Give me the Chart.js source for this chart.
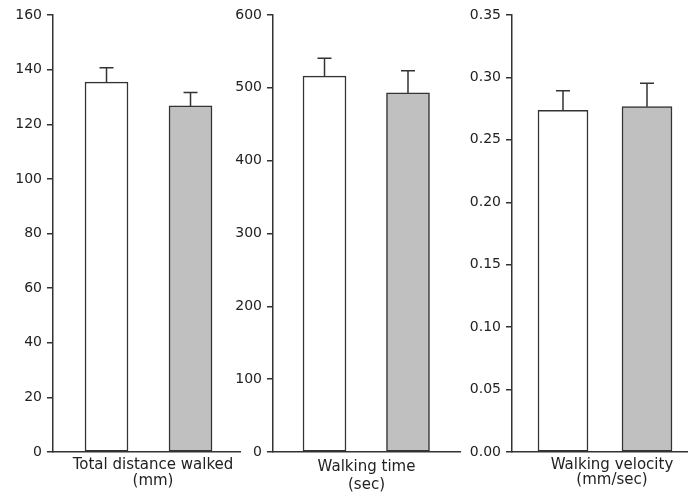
<!DOCTYPE html>
<html>
<head>
<meta charset="utf-8">
<script src="https://cdn.jsdelivr.net/npm/chart.js@4/dist/chart.umd.min.js"></script>
<style>
  html, body { margin: 0; padding: 0; background: #fff; }
  #wrap { position: relative; width: 688px; height: 499px; }
  #wrap canvas { position: absolute; left: 0; top: 0; }
</style>
</head>
<body>
<div id="wrap">
  <canvas id="c1" width="688" height="499"></canvas>
  <canvas id="c2" width="688" height="499"></canvas>
  <canvas id="c3" width="688" height="499"></canvas>
</div>
<script>
// two groups: open bars and grey bars
const groups = ["Group 1", "Group 2"];
const barColors = ["#ffffff", "#c0c0c0"];

// Total distance walked (mm)
const distanceMean = [135.4, 126.7];
const distanceErr = [5.3, 4.9];
const distanceTicks = { min: 0, max: 160, step: 20 };

// Walking time (sec)
const timeMean = [516, 493];
const timeErr = [24.5, 30.5];
const timeTicks = { min: 0, max: 600, step: 100 };

// Walking velocity (mm/sec)
const velocityMean = [0.2737, 0.2766];
const velocityErr = [0.0157, 0.0187];
const velocityTicks = { min: 0, max: 0.35, step: 0.05 };

const textColor = "#222";
const lineColor = "#333";

// error bars (upward only, with a cap)
const errorBarPlugin = {
  id: "errorBars",
  afterDatasetsDraw(chart) {
    const errs = chart.options.plugins.errorBars.errors;
    const yScale = chart.scales.y;
    const meta = chart.getDatasetMeta(0);
    const ctx = chart.ctx;
    ctx.save();
    ctx.strokeStyle = lineColor;
    ctx.lineWidth = 1.5;
    meta.data.forEach((bar, i) => {
      const v = chart.data.datasets[0].data[i].y;
      const yTop = yScale.getPixelForValue(v + errs[i]);
      ctx.beginPath();
      ctx.moveTo(bar.x, bar.y);
      ctx.lineTo(bar.x, yTop);
      ctx.moveTo(bar.x - 7, yTop);
      ctx.lineTo(bar.x + 7, yTop);
      ctx.stroke();
    });
    ctx.restore();
  }
};

// two-line axis caption under each panel
const captionPlugin = {
  id: "caption",
  afterDraw(chart) {
    const o = chart.options.plugins.caption;
    const area = chart.chartArea;
    const ctx = chart.ctx;
    ctx.save();
    ctx.fillStyle = textColor;
    ctx.font = "15px 'DejaVu Sans'";
    ctx.textAlign = "center";
    ctx.textBaseline = "middle";
    const cx = (area.left + area.right) / 2 + o.dx;
    o.lines.forEach((t, i) => ctx.fillText(t, cx, o.y[i]));
    ctx.restore();
  }
};

function makePanel(id, means, errs, ticks, decimals, caption, p) {
  new Chart(document.getElementById(id), {
    type: "bar",
    data: {
      datasets: [{
        label: id,
        data: means.map((v, i) => ({ x: i, y: v })),
        backgroundColor: barColors,
        borderColor: lineColor,
        borderWidth: 1.5,
        borderSkipped: false,
        barThickness: p.barWidth
      }]
    },
    options: {
      responsive: false,
      animation: false,
      layout: { padding: { left: p.padLeft, right: p.padRight, top: 15, bottom: 0 } },
      plugins: {
        legend: { display: false },
        tooltip: { enabled: false },
        errorBars: { errors: errs },
        caption: caption
      },
      scales: {
        x: {
          type: "linear",
          offset: false,
          min: p.xMin,
          max: p.xMax,
          ticks: { display: false },
          grid: { display: false, offset: false },
          border: { display: true, color: lineColor, width: 1.5 },
          afterFit(scale) { scale.height = 47; }
        },
        y: {
          min: ticks.min,
          max: ticks.max,
          ticks: {
            stepSize: ticks.step,
            color: textColor,
            padding: 5,
            font: { family: "'DejaVu Sans'", size: 14 },
            callback: (v) => Number(v).toFixed(decimals)
          },
          grid: {
            display: true,
            drawOnChartArea: false,
            drawTicks: true,
            tickLength: 6,
            color: lineColor,
            lineWidth: 1.5
          },
          border: { display: true, color: lineColor, width: 1.5 },
          afterFit(scale) { scale.width = p.axisWidth; }
        }
      }
    },
    plugins: [errorBarPlugin, captionPlugin]
  });
}

makePanel("c1", distanceMean, distanceErr, distanceTicks, 0,
  { lines: ["Total distance walked", "(mm)"], dx: 6.5, y: [465, 481] },
  { padLeft: 0, padRight: 448, axisWidth: 53, xMin: -0.637, xMax: 1.589, barWidth: 43 });

makePanel("c2", timeMean, timeErr, timeTicks, 0,
  { lines: ["Walking time", "(sec)"], dx: 0, y: [467, 485] },
  { padLeft: 200, padRight: 228, axisWidth: 73, xMin: -0.617, xMax: 1.623, barWidth: 43 });

makePanel("c3", velocityMean, velocityErr, velocityTicks, 2,
  { lines: ["Walking velocity", "(mm/sec)"], dx: 12, y: [465, 480] },
  { padLeft: 440, padRight: 0, axisWidth: 72, xMin: -0.607, xMax: 1.488, barWidth: 50 });
</script>
</body>
</html>
